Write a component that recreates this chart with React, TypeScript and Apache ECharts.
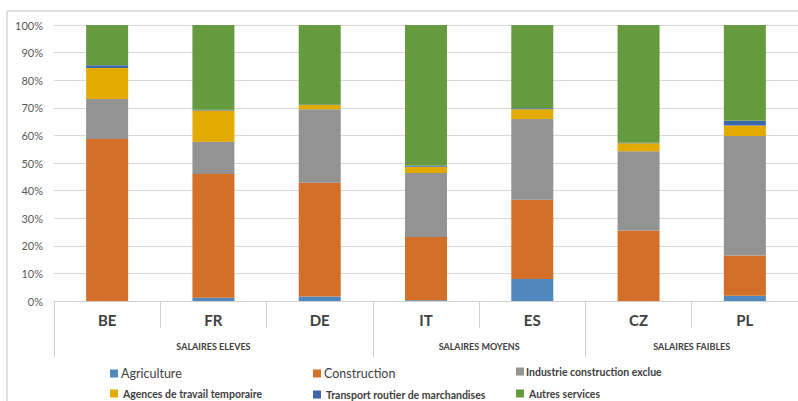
import React, { useEffect, useRef } from "react";
import * as echarts from "echarts";

const categories = ["BE", "FR", "DE", "IT", "ES", "CZ", "PL"];
const groups = ["SALAIRES ELEVES", "SALAIRES MOYENS", "SALAIRES FAIBLES"];
const groupBounds = [0, 3, 5, 7];
const groupCenters = [1.5, 4, 6];
const yTicks = [0, 10, 20, 30, 40, 50, 60, 70, 80, 90, 100];

const agriculture = [0, 1.2, 1.6, 0.3, 8.0, 0, 1.9];
const construction = [58.7, 44.8, 41.2, 22.9, 28.7, 25.5, 14.6];
const industrie = [14.5, 11.7, 26.7, 23.2, 29.2, 28.8, 43.3];
const agences = [11.2, 11.3, 1.5, 2.2, 3.6, 2.9, 3.8];
const transport = [1.0, 0.3, 0.2, 0.5, 0.3, 0.1, 1.7];
const autres = [14.6, 30.7, 28.8, 50.9, 30.2, 42.7, 34.7];

const seriesNames = [
  "Agriculture",
  "Construction",
  "Industrie construction exclue",
  "Agences de travail temporaire",
  "Transport routier de marchandises",
  "Autres services",
];
const seriesData = [agriculture, construction, industrie, agences, transport, autres];
const colors = ["#4f88bd", "#d46f2a", "#939393", "#e3aa00", "#3d66ab", "#659a3f"];

const FONT = "Lato, 'Noto Sans', sans-serif";

// legend layout: [left, top]
const legendPos = [
  [110, 367],
  [313, 367],
  [516, 366],
  [110, 388],
  [313, 389],
  [516, 388],
];

export default function App() {
  const ref = useRef<HTMLDivElement>(null);
  useEffect(() => {
    if (!ref.current) return;
    const chart = echarts.init(ref.current, null, { renderer: "svg" });
    chart.setOption({
      animation: false,
      backgroundColor: "#ffffff",
      color: colors,
      graphic: [
        {
          type: "rect",
          shape: { x: 7, y: 11, width: 820, height: 420 },
          style: { fill: "none", stroke: "#bfbfbf", lineWidth: 1 },
          silent: true,
        },
      ],
      grid: { left: 54, right: 0, top: 25, bottom: 100, containLabel: false },
      legend: seriesNames.map((n, i) => ({
        left: legendPos[i][0],
        top: legendPos[i][1],
        padding: 0,
        itemWidth: 8,
        itemHeight: 8,
        icon: "rect",
        selectedMode: false,
        data: [n],
        textStyle:
          i < 2
            ? { fontFamily: FONT, color: "#404040", fontSize: 12.5, fontWeight: "normal", padding: [0, 0, 0, -2] }
            : { fontFamily: FONT, color: "#404040", fontSize: 10.5, fontWeight: "bold", padding: [0, 0, 0, i === 2 ? -3 : 0] },
      })),
      xAxis: [
        {
          type: "category",
          data: categories,
          axisLine: { show: true, lineStyle: { color: "#d0d0d0" } },
          axisTick: { show: true, interval: 0, length: 27, lineStyle: { color: "#d0d0d0" } },
          axisLabel: {
            interval: 0,
            margin: 11,
            fontSize: 15,
            fontWeight: "bold",
            color: "#404040",
            fontFamily: FONT,
          },
        },
        {
          type: "value",
          position: "bottom",
          min: 0,
          max: 7,
          splitLine: { show: false },
          axisLine: { show: false },
          axisTick: {
            show: true,
            length: 56,
            customValues: groupBounds,
            lineStyle: { color: "#d0d0d0" },
          },
          axisLabel: {
            show: true,
            customValues: groupCenters,
            margin: 41,
            fontSize: 9,
            fontWeight: "bold",
            color: "#404040",
            fontFamily: FONT,
            formatter: (v: number) => groups[groupCenters.indexOf(v)] ?? "",
          },
        },
      ],
      yAxis: {
        type: "value",
        min: 0,
        max: 100,
        interval: 10,
        axisLine: { show: false },
        axisTick: { show: false },
        splitLine: { lineStyle: { color: "#d9d9d9" } },
        axisLabel: {
          margin: 11,
          fontSize: 11,
          color: "#595959",
          fontFamily: FONT,
          formatter: (v: number) => (yTicks.includes(v) ? v + "%" : ""),
        },
      },
      series: seriesNames.map((n, i) => ({
        name: n,
        type: "bar",
        stack: "total",
        barWidth: 42,
        xAxisIndex: 0,
        data: seriesData[i],
        itemStyle: { color: colors[i] },
      })),
    });
    return () => chart.dispose();
  }, []);
  return (
    <div
      ref={ref}
      style={{ position: "fixed", left: 0, top: 0, width: 798, height: 401, background: "#fff" }}
    />
  );
}
